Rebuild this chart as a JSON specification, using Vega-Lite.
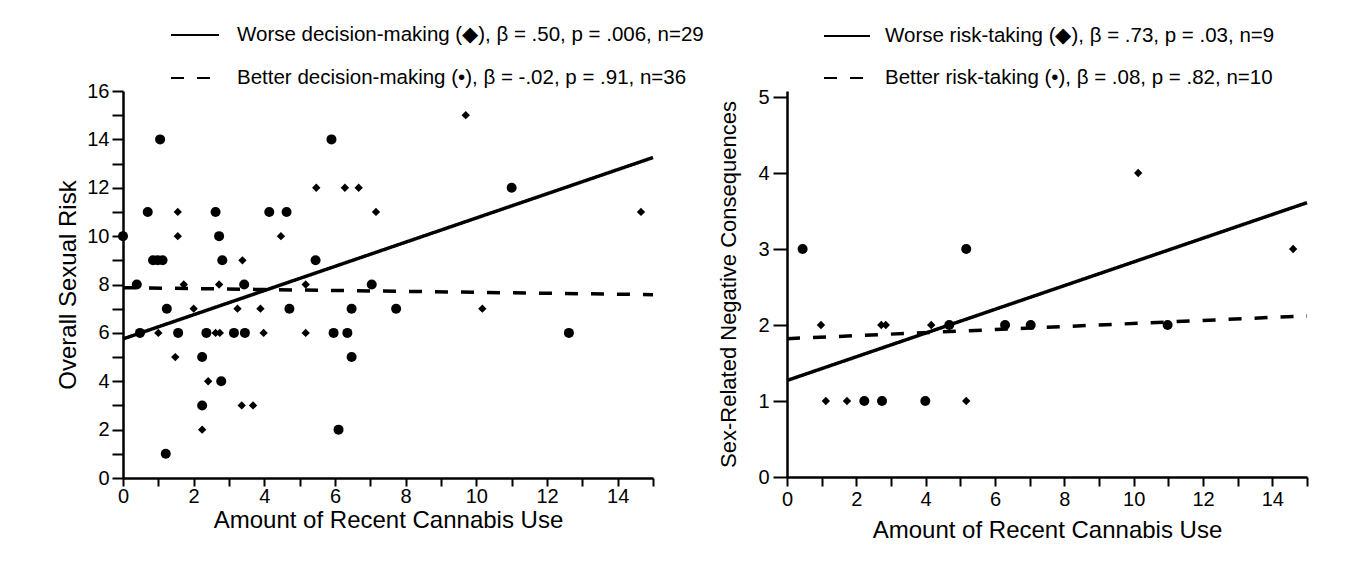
{
  "$schema": "https://vega.github.io/schema/vega-lite/v6.json",
  "background": "white",
  "padding": {"left": 56, "top": 10, "right": 5, "bottom": 5},
  "spacing": 13,
  "resolve": {
    "scale": {"strokeDash": "independent", "shape": "independent", "size": "independent"},
    "legend": {"strokeDash": "independent"}
  },
  "config": {
    "font": "Liberation Sans",
    "view": {"stroke": null},
    "axis": {
      "grid": false,
      "domainColor": "black",
      "domainWidth": 2.5,
      "tickColor": "black",
      "tickWidth": 2,
      "labelColor": "black",
      "labelFontSize": 20,
      "labelFont": "Liberation Sans",
      "titleFont": "Liberation Sans",
      "titleColor": "black",
      "titleFontSize": 24,
      "titleFontWeight": "normal"
    },
    "legend": {
      "labelFont": "Liberation Sans",
      "labelColor": "black"
    }
  },
  "datasets": {
    "left_pts": [
      {"x": 1.55, "y": 11, "g": "W"}, {"x": 1.55, "y": 10, "g": "W"}, {"x": 3.38, "y": 9, "g": "W"},
      {"x": 5.47, "y": 12, "g": "W"}, {"x": 6.28, "y": 12, "g": "W"}, {"x": 6.67, "y": 12, "g": "W"},
      {"x": 7.16, "y": 11, "g": "W"}, {"x": 9.7, "y": 15, "g": "W"}, {"x": 14.66, "y": 11, "g": "W"},
      {"x": 10.17, "y": 7, "g": "W"}, {"x": 4.47, "y": 10, "g": "W"}, {"x": 1.72, "y": 8, "g": "W"},
      {"x": 2.72, "y": 8, "g": "W"}, {"x": 2.0, "y": 7, "g": "W"}, {"x": 3.24, "y": 7, "g": "W"},
      {"x": 3.89, "y": 7, "g": "W"}, {"x": 1.0, "y": 6, "g": "W"}, {"x": 2.62, "y": 6, "g": "W"},
      {"x": 2.74, "y": 6, "g": "W"}, {"x": 3.98, "y": 6, "g": "W"}, {"x": 1.48, "y": 5, "g": "W"},
      {"x": 2.41, "y": 4, "g": "W"}, {"x": 3.36, "y": 3, "g": "W"}, {"x": 3.68, "y": 3, "g": "W"},
      {"x": 2.24, "y": 2, "g": "W"}, {"x": 5.17, "y": 8, "g": "W"}, {"x": 5.17, "y": 6, "g": "W"},
      {"x": 1.05, "y": 14, "g": "B"}, {"x": 0.7, "y": 11, "g": "B"}, {"x": 2.62, "y": 11, "g": "B"},
      {"x": 4.14, "y": 11, "g": "B"}, {"x": 4.63, "y": 11, "g": "B"}, {"x": 0.0, "y": 10, "g": "B"},
      {"x": 2.72, "y": 10, "g": "B"}, {"x": 0.85, "y": 9, "g": "B"}, {"x": 0.98, "y": 9, "g": "B"},
      {"x": 1.12, "y": 9, "g": "B"}, {"x": 2.81, "y": 9, "g": "B"}, {"x": 5.9, "y": 14, "g": "B"},
      {"x": 5.45, "y": 9, "g": "B"}, {"x": 11.0, "y": 12, "g": "B"}, {"x": 12.62, "y": 6, "g": "B"},
      {"x": 0.39, "y": 8, "g": "B"}, {"x": 3.43, "y": 8, "g": "B"}, {"x": 1.24, "y": 7, "g": "B"},
      {"x": 4.71, "y": 7, "g": "B"}, {"x": 0.48, "y": 6, "g": "B"}, {"x": 1.56, "y": 6, "g": "B"},
      {"x": 2.36, "y": 6, "g": "B"}, {"x": 3.14, "y": 6, "g": "B"}, {"x": 3.45, "y": 6, "g": "B"},
      {"x": 2.24, "y": 5, "g": "B"}, {"x": 2.78, "y": 4, "g": "B"}, {"x": 2.24, "y": 3, "g": "B"},
      {"x": 1.21, "y": 1, "g": "B"}, {"x": 7.04, "y": 8, "g": "B"}, {"x": 6.47, "y": 7, "g": "B"},
      {"x": 7.73, "y": 7, "g": "B"}, {"x": 5.96, "y": 6, "g": "B"}, {"x": 6.35, "y": 6, "g": "B"},
      {"x": 6.47, "y": 5, "g": "B"}, {"x": 6.1, "y": 2, "g": "B"}
    ],
    "left_lines": [
      {"x": 0, "y": 5.75, "fit": "Worse decision-making (◆), β = .50, p = .006, n=29"},
      {"x": 15, "y": 13.25, "fit": "Worse decision-making (◆), β = .50, p = .006, n=29"},
      {"x": 0, "y": 7.87, "fit": "Better decision-making (•), β = -.02, p = .91, n=36"},
      {"x": 15, "y": 7.58, "fit": "Better decision-making (•), β = -.02, p = .91, n=36"}
    ],
    "right_pts": [
      {"x": 0.98, "y": 2, "g": "W"}, {"x": 2.72, "y": 2, "g": "W"}, {"x": 2.85, "y": 2, "g": "W"},
      {"x": 4.16, "y": 2, "g": "W"}, {"x": 1.12, "y": 1, "g": "W"}, {"x": 1.73, "y": 1, "g": "W"},
      {"x": 5.17, "y": 1, "g": "W"}, {"x": 10.13, "y": 4, "g": "W"}, {"x": 14.6, "y": 3, "g": "W"},
      {"x": 0.45, "y": 3, "g": "B"}, {"x": 5.17, "y": 3, "g": "B"}, {"x": 4.68, "y": 2, "g": "B"},
      {"x": 6.29, "y": 2, "g": "B"}, {"x": 7.03, "y": 2, "g": "B"}, {"x": 10.98, "y": 2, "g": "B"},
      {"x": 2.23, "y": 1, "g": "B"}, {"x": 2.74, "y": 1, "g": "B"}, {"x": 3.99, "y": 1, "g": "B"}
    ],
    "right_lines": [
      {"x": 0, "y": 1.27, "fit": "Worse risk-taking (◆), β = .73, p = .03, n=9"},
      {"x": 15, "y": 3.61, "fit": "Worse risk-taking (◆), β = .73, p = .03, n=9"},
      {"x": 0, "y": 1.82, "fit": "Better risk-taking (•), β = .08, p = .82, n=10"},
      {"x": 15, "y": 2.12, "fit": "Better risk-taking (•), β = .08, p = .82, n=10"}
    ]
  },
  "hconcat": [
    {
      "width": 530,
      "height": 387,
      "encoding": {
        "x": {"field": "x", "type": "quantitative",
              "scale": {"domain": [0, 15], "nice": false, "zero": false},
              "axis": {"title": "Amount of Recent Cannabis Use", "values": [0, 1, 2, 3, 4, 5, 6, 7, 8, 9, 10, 11, 12, 13, 14, 15],
                       "labelExpr": "datum.value % 2 === 0 && datum.value < 15 ? datum.label : ''",
                       "tickSize": 8, "labelPadding": 0, "titlePadding": 2, "labelFlush": false}},
        "y": {"field": "y", "type": "quantitative",
              "scale": {"domain": [0, 16], "nice": false},
              "axis": {"title": "Overall Sexual Risk", "values": [0, 1, 2, 3, 4, 5, 6, 7, 8, 9, 10, 11, 12, 13, 14, 15, 16],
                       "labelExpr": "datum.value % 2 === 0 ? datum.label : ''",
                       "tickSize": 11, "labelPadding": 3, "titlePadding": 6}}
      },
      "layer": [
        {
          "data": {"name": "left_lines"},
          "mark": {"type": "line", "color": "black", "strokeWidth": 3.5},
          "encoding": {
            "strokeDash": {"field": "fit", "type": "nominal",
                  "scale": {"domain": ["Worse decision-making (◆), β = .50, p = .006, n=29", "Better decision-making (•), β = -.02, p = .91, n=36"], "range": [[1, 0], [13, 13]]},
                  "legend": {"title": null, "orient": "none", "legendX": 47, "legendY": -81, "direction": "vertical",
                             "symbolType": "stroke", "symbolSize": 2304, "symbolStrokeWidth": 2, "symbolStrokeColor": "black",
                             "labelFontSize": 20.5, "labelOffset": 17, "labelLimit": 600, "rowPadding": 7, "padding": 0}}
          }
        },
        {
          "data": {"name": "left_pts"},
          "mark": {"type": "point", "filled": true, "color": "black", "opacity": 1},
          "encoding": {
            "shape": {"field": "g", "type": "nominal", "scale": {"domain": ["W", "B"], "range": ["diamond", "circle"]}, "legend": null},
            "size": {"field": "g", "type": "nominal", "scale": {"domain": ["W", "B"], "range": [70, 100]}, "legend": null}
          }
        }
      ]
    },
    {
      "width": 520,
      "height": 386,
      "encoding": {
        "x": {"field": "x", "type": "quantitative",
              "scale": {"domain": [0, 15], "nice": false, "zero": false},
              "axis": {"title": "Amount of Recent Cannabis Use", "values": [0, 1, 2, 3, 4, 5, 6, 7, 8, 9, 10, 11, 12, 13, 14, 15],
                       "labelExpr": "datum.value % 2 === 0 && datum.value < 15 ? datum.label : ''",
                       "tickSize": 9, "labelPadding": 3, "titlePadding": 9, "labelFlush": false}},
        "y": {"field": "y", "type": "quantitative",
              "scale": {"domain": [0, 5.079], "nice": false},
              "axis": {"title": "Sex-Related Negative Consequences", "titleFontSize": 22, "values": [0, 1, 2, 3, 4, 5], "format": "d",
                       "tickSize": 14, "labelPadding": 4, "titlePadding": 17}}
      },
      "layer": [
        {
          "data": {"name": "right_lines"},
          "mark": {"type": "line", "color": "black", "strokeWidth": 3.5},
          "encoding": {
            "strokeDash": {"field": "fit", "type": "nominal",
                  "scale": {"domain": ["Worse risk-taking (◆), β = .73, p = .03, n=9", "Better risk-taking (•), β = .08, p = .82, n=10"], "range": [[1, 0], [13, 13]]},
                  "legend": {"title": null, "orient": "none", "legendX": 36, "legendY": -79, "direction": "vertical",
                             "symbolType": "stroke", "symbolSize": 2116, "symbolStrokeWidth": 2, "symbolStrokeColor": "black",
                             "labelFontSize": 20.5, "labelOffset": 14, "labelLimit": 600, "rowPadding": 7, "padding": 0}}
          }
        },
        {
          "data": {"name": "right_pts"},
          "mark": {"type": "point", "filled": true, "color": "black", "opacity": 1},
          "encoding": {
            "shape": {"field": "g", "type": "nominal", "scale": {"domain": ["W", "B"], "range": ["diamond", "circle"]}, "legend": null},
            "size": {"field": "g", "type": "nominal", "scale": {"domain": ["W", "B"], "range": [70, 100]}, "legend": null}
          }
        }
      ]
    }
  ]
}
